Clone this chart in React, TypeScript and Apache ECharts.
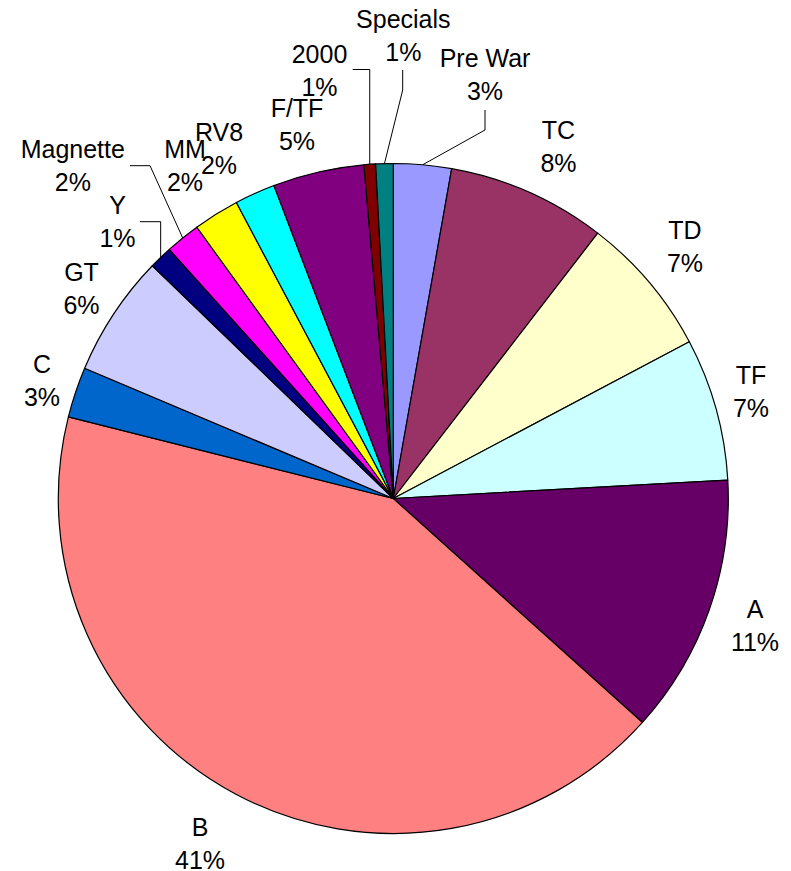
import React, { useEffect, useRef } from "react";
import * as echarts from "echarts";

// Categories, clockwise from 12 o'clock
const categories = [
  "Pre War", "TC", "TD", "TF", "A", "B", "C", "GT", "Y",
  "Magnette", "MM", "RV8", "F/TF", "2000", "Specials",
];
// Slice sizes (share of the circle, %)
const sliceValues = [
  2.79, 7.66, 6.8, 6.88, 12.53, 42.27, 2.44, 5.87, 1.12,
  1.68, 2.22, 1.96, 4.4, 0.56, 0.84,
];
// Percentages as printed on the labels
const percentLabels = [3, 8, 7, 7, 11, 41, 3, 6, 1, 2, 2, 2, 5, 1, 1];

const colors = [
  "#9999FF", "#993366", "#FFFFCC", "#CCFFFF", "#660066", "#FF8080",
  "#0066CC", "#CCCCFF", "#000080", "#FF00FF", "#FFFF00", "#00FFFF",
  "#800080", "#800000", "#008080",
];

// Label centre positions (layout)
const labelPos: number[][] = [
  [485, 74.4], [558.5, 146], [685, 246.3], [751, 391.3], [755, 625.6],
  [200, 843.5], [42, 380.7], [81.5, 288.8], [117.5, 221.5], [72.8, 165.5],
  [185, 165.5], [219, 148.2], [297, 124], [319.5, 70], [403.3, 35.3],
];

const CX = 393.3;
const CY = 498.5;
const R = 335;

function anchorOf(i: number): number[] {
  const total = sliceValues.reduce((a, b) => a + b, 0);
  let cum = 0;
  for (let k = 0; k < i; k++) cum += sliceValues[k];
  const mid = ((cum + sliceValues[i] / 2) / total) * Math.PI * 2;
  return [CX + R * Math.sin(mid), CY - R * Math.cos(mid)];
}

// Leader lines (elbow shapes), keyed by slice index
function leader(i: number, a: number[]): number[][] | null {
  switch (i) {
    case 0:
      return [a, [485, 130], [485, 110]];
    case 14:
      return [a, [402.7, 90], [402.7, 70]];
    case 13:
      return [a, [a[0], 69.5], [352.7, 69.5]];
    case 9:
      return [a, [150, 165.7], [130, 165.7]];
    case 8:
      return [a, [a[0], 221.7], [140, 221.7]];
    default:
      return null;
  }
}
const leaderIdx = [0, 14, 13, 9, 8];

export default function App() {
  const ref = useRef<HTMLDivElement>(null);
  useEffect(() => {
    if (!ref.current) return;
    const chart = echarts.init(ref.current, null, { renderer: "svg" });
    const data = categories.map((name, i) => ({
      name,
      value: sliceValues[i],
      itemStyle: { color: colors[i] },
      labelLine: { show: leaderIdx.includes(i) },
    }));
    chart.setOption({
      animation: false,
      backgroundColor: "#ffffff",
      series: [
        {
          type: "pie",
          center: [CX, CY],
          radius: R,
          startAngle: 90,
          clockwise: true,
          avoidLabelOverlap: false,
          data,
          itemStyle: { borderColor: "#000000", borderWidth: 1.2 },
          emphasis: { disabled: true },
          label: {
            show: true,
            position: "outside",
            color: "#000000",
            fontFamily: "'Liberation Sans', Arial, sans-serif",
            fontSize: 25,
            lineHeight: 33,
            align: "center",
            formatter: (p: any) => `${p.name}\n${percentLabels[p.dataIndex]}%`,
          },
          labelLine: {
            show: false,
            smooth: false,
            lineStyle: { color: "#000000", width: 1 },
          },
          labelLayout: (params: any) => {
            const i = params.dataIndex;
            const pos = labelPos[i];
            const res: any = {
              x: pos[0],
              y: pos[1],
              align: "center",
              verticalAlign: "middle",
            };
            const a =
              params.labelLinePoints && params.labelLinePoints[0]
                ? params.labelLinePoints[0]
                : anchorOf(i);
            const pts = leader(i, a);
            if (pts) res.labelLinePoints = pts;
            return res;
          },
        },
      ],
    });
    return () => chart.dispose();
  }, []);
  return (
    <div
      ref={ref}
      style={{ position: "absolute", left: 0, top: 0, width: 791, height: 871 }}
    />
  );
}
